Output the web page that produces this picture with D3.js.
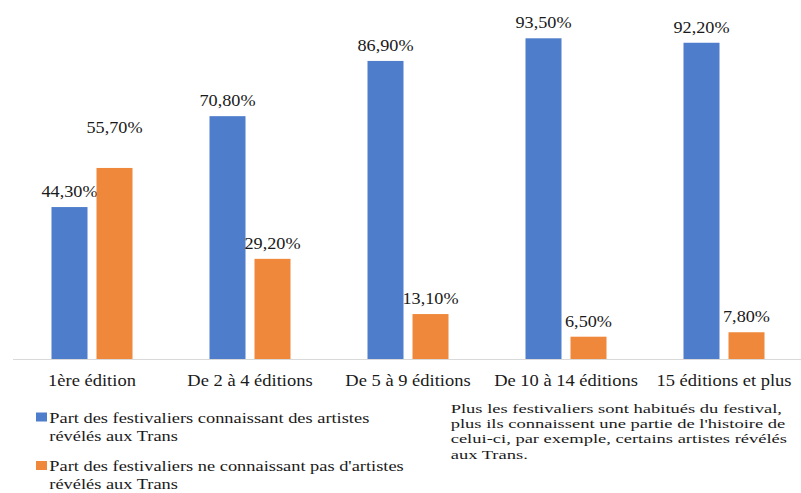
<!DOCTYPE html>
<html>

<head>
    <meta charset="UTF-8">
    <title>Festivaliers et artistes révélés aux Trans</title>
    <script src="https://d3js.org/d3.v7.min.js"></script>
    <style>
        body { margin: 0; background: #fff; }
    </style>
</head>

<body>
    <div id="chart"></div>

    <script>
        // Data
        var categories = ["1ère édition", "De 2 à 4 éditions", "De 5 à 9 éditions", "De 10 à 14 éditions", "15 éditions et plus"];
        var connaissant = [44.3, 70.8, 86.9, 93.5, 92.2];
        var neConnaissantPas = [55.7, 29.2, 13.1, 6.5, 7.8];
        var seriesNames = [
            ["Part des festivaliers connaissant des artistes", "révélés aux Trans"],
            ["Part des festivaliers ne connaissant pas d'artistes", "révélés aux Trans"]
        ];
        var note = [
            "Plus les festivaliers sont habitués du festival,",
            "plus ils connaissent une partie de l'histoire de",
            "celui-ci, par exemple, certains artistes révélés",
            "aux Trans."
        ];

        var width = 801, height = 493;
        var colors = ["#4e7ecb", "#f0883b"];
        var series = [connaissant, neConnaissantPas];
        var serif = "Liberation Serif";
        // text is set large then scaled down: the original picture is stretched sideways
        var base = 32;

        function place(x, y, sx, sy) {
            return "translate(" + x + "," + y + ") scale(" + sx + "," + sy + ")";
        }

        var svg = d3.select("#chart").append("svg")
            .attr("width", width)
            .attr("height", height)
            .attr("font-family", serif);

        var x = d3.scaleBand().domain(categories).range([13, 803]);
        var xInner = d3.scaleBand().domain([0, 1]).range([38.5, 119.5]).paddingInner(0.2);
        var y = d3.scaleLinear().domain([0, 100]).range([359, 16]);

        // bars
        series.forEach(function (vals, s) {
            svg.append("g").selectAll("rect")
                .data(vals)
                .enter().append("rect")
                .attr("x", (d, i) => x(categories[i]) + xInner(s))
                .attr("y", d => y(d))
                .attr("width", xInner.bandwidth())
                .attr("height", d => y(0) - y(d))
                .attr("fill", colors[s]);

            // value labels (the first orange one sits higher in the original)
            svg.append("g").selectAll("text")
                .data(vals)
                .enter().append("text")
                .attr("transform", (d, i) => place(
                    x(categories[i]) + xInner(s) + xInner.bandwidth() / 2,
                    y(d) - 10 - (s === 1 && i === 0 ? 25 : 0),
                    18.2 / base, 17 / base))
                .attr("text-anchor", "middle")
                .attr("font-family", serif)
                .attr("font-size", base)
                .attr("fill", "#1a1a1a")
                .text(d => d.toFixed(2).replace(".", ",") + "%");
        });

        // axis line
        svg.append("line")
            .attr("x1", 13).attr("x2", width)
            .attr("y1", y(0) + 0.5).attr("y2", y(0) + 0.5)
            .attr("stroke", "#d9d9d9")
            .attr("stroke-width", 1.2);

        // category labels
        svg.append("g").selectAll("text")
            .data(categories)
            .enter().append("text")
            .attr("transform", d => place(x(d) + x.bandwidth() / 2, 386, 18.5 / base, 17 / base))
            .attr("text-anchor", "middle")
            .attr("font-family", serif)
            .attr("font-size", base)
            .attr("fill", "#1a1a1a")
            .text(d => d);

        // legend
        var legend = svg.append("g").selectAll("g")
            .data(seriesNames)
            .enter().append("g")
            .attr("transform", (d, i) => "translate(36," + (412.5 + i * 48.5) + ")");

        legend.append("rect")
            .attr("width", 11).attr("height", 9)
            .attr("fill", (d, i) => colors[i]);

        legend.append("text")
            .attr("transform", place(13.3, 10, 18.4 / base, 15 / base))
            .attr("font-family", serif)
            .attr("font-size", base)
            .attr("fill", "#1a1a1a")
            .selectAll("tspan")
            .data(d => d)
            .enter().append("tspan")
            .attr("x", 0)
            .attr("dy", (d, i) => i === 0 ? 0 : 18.3 / (15 / base))
            .text(d => d);

        // note
        svg.append("text")
            .attr("transform", place(450.7, 413, 18.5 / base, 13.5 / base))
            .attr("font-family", serif)
            .attr("font-size", base)
            .attr("fill", "#1a1a1a")
            .selectAll("tspan")
            .data(note)
            .enter().append("tspan")
            .attr("x", 0)
            .attr("dy", (d, i) => i === 0 ? 0 : 15.2 / (13.5 / base))
            .text(d => d);
    </script>
</body>

</html>
